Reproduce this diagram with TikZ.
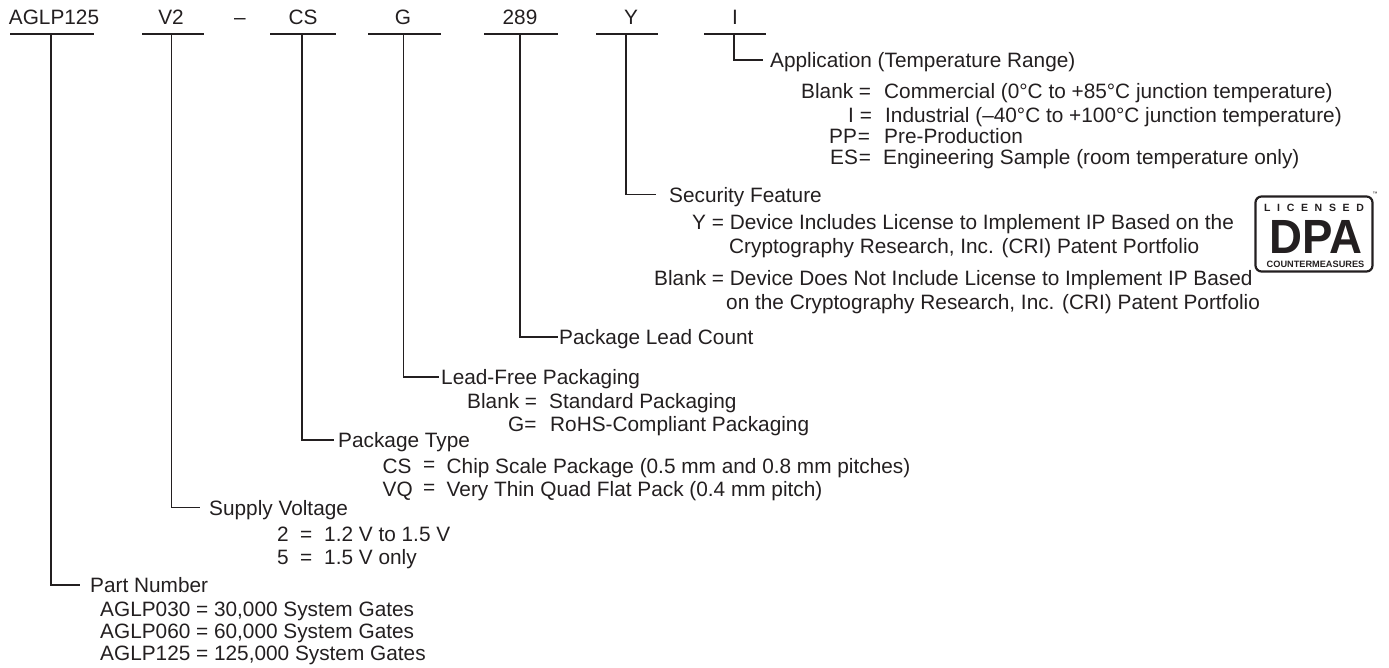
\documentclass[tikz,border=0pt]{standalone}
\usepackage{fontspec}
\setmainfont{Liberation Sans}
\usetikzlibrary{positioning}
\definecolor{partInk}{HTML}{231F20}
\newcommand{\logoGap}{\hspace{6.7pt}}

\begin{document}
\begin{tikzpicture}[x=1pt,y=-1pt,font=\fontsize{20.8}{24}\selectfont,text=partInk,
    codetext/.style={inner sep=0pt,anchor=base},
    bodytext/.style={inner sep=0pt,anchor=base west},
    headtext/.style={inner sep=0pt,anchor=west,text height=15pt,text depth=0pt},
    codebar/.style={fill=partInk,inner sep=0pt,minimum height=2pt,minimum width=#1},
    leader/.style={draw=partInk,line width=1.4pt}]
  \useasboundingbox (0,0) rectangle (1389,667);

  % ordering code along the top
  \node[codetext] (codePart) at (54,24) {AGLP125};
  \node[codetext] (codeVolt) at (171,24) {V2};
  \node[codetext] (codeDash) at (240,24) {--};
  \node[codetext] (codeType) at (303,24) {CS};
  \node[codetext] (codeFree) at (403,24) {G};
  \node[codetext] (codeLead) at (520,24) {289};
  \node[codetext] (codeSecu) at (631,24) {Y};
  \node[codetext] (codeAppl) at (735,24) {I};

  \node[codebar=84pt] (barPart) at (52,33.5) {};
  \node[codebar=62pt] (barVolt) at (172.5,33.5) {};
  \node[codebar=66pt] (barType) at (303,33.5) {};
  \node[codebar=72.7pt] (barFree) at (404.5,33.5) {};
  \node[codebar=74pt] (barLead) at (521,33.5) {};
  \node[codebar=62pt] (barSecu) at (627,33.5) {};
  \node[codebar=62pt] (barAppl) at (735,33.5) {};

  % application
  \node[headtext] (headAppl) at (770,60) {Application (Temperature Range)};
  \node[bodytext] (applBlankKey) at (801,98) {Blank =};
  \node[bodytext] (applBlank) at (884,98) {Commercial (0°C to +85°C junction temperature)};
  \node[bodytext] (applIndKey) at (848,122) {I =};
  \node[bodytext] (applInd) at (885,122) {Industrial (--40°C to +100°C junction temperature)};
  \node[bodytext] (applPreKey) at (829,143) {PP\kern1pt=};
  \node[bodytext] (applPre) at (884,143) {Pre-Production};
  \node[bodytext] (applEngKey) at (830,164) {ES\kern1pt=};
  \node[bodytext] (applEng) at (883,164) {Engineering Sample (room temperature only)};

  % security
  \node[headtext] (headSecu) at (669,194.5) {Security Feature};
  \node[bodytext] (secuYes) at (692,229) {Y = Device Includes License to Implement IP Based on the};
  \node[bodytext] (secuYesB) at (729,253) {Cryptography Research, Inc. (CRI) Patent Portfolio};
  \node[bodytext] (secuNo) at (654,285) {Blank = Device Does Not Include License to Implement IP Based};
  \node[bodytext] (secuNoB) at (726,309) {on the Cryptography Research, Inc. (CRI) Patent Portfolio};

  % licence mark
  \node[draw=partInk,line width=2.2pt,rounded corners=6pt,inner sep=0pt,minimum width=117pt,
        minimum height=75pt] (logoBox) at (1314,234) {};
  \node[inner sep=0pt,font=\bfseries\fontsize{10.5}{11}\selectfont] (logoTop) at (1314,208)
    {L\logoGap I\logoGap C\logoGap E\logoGap N\logoGap S\logoGap E\logoGap D};
  \node[inner sep=0pt,font=\bfseries\fontsize{48}{48}\selectfont] (logoMain) at (1316,237) {\scalebox{.95}[1]{DPA}};
  \node[inner sep=0pt,font=\bfseries\fontsize{9.2}{10}\selectfont] (logoBot) at (1315.5,264) {COUNTERMEASURES};
  \node[inner sep=0pt,font=\fontsize{5}{5}\selectfont] (logoMark) at (1375,194) {™};

  % package lead count
  \node[headtext] (headLead) at (559,337) {Package Lead Count};

  % lead-free
  \node[headtext] (headFree) at (441,377) {Lead-Free Packaging};
  \node[bodytext] (freeStdKey) at (467,408) {Blank =};
  \node[bodytext] (freeStd) at (549,408) {Standard Packaging};
  \node[bodytext] (freeRohsKey) at (508,431) {G=};
  \node[bodytext] (freeRohs) at (550,431) {RoHS-Compliant Packaging};

  % package type
  \node[headtext] (headType) at (338,440) {Package Type};
  \node[bodytext] (typeCsKey) at (382.5,473) {CS};
  \node[bodytext] (typeCsEq) at (423,471) {=};
  \node[bodytext] (typeCs) at (446.5,473) {Chip Scale Package (0.5 mm and 0.8 mm pitches)};
  \node[bodytext] (typeVqKey) at (382.5,496.5) {VQ};
  \node[bodytext] (typeVqEq) at (423,494) {=};
  \node[bodytext] (typeVq) at (446.5,496.5) {Very Thin Quad Flat Pack (0.4 mm pitch)};

  % supply voltage
  \node[headtext] (headVolt) at (209,507.5) {Supply Voltage};
  \node[bodytext] (voltLowKey) at (277,541.5) {2};
  \node[bodytext] (voltLowEq) at (300,541.5) {=};
  \node[bodytext] (voltLow) at (324,541.5) {1.2 V to 1.5 V};
  \node[bodytext] (voltHighKey) at (277,564) {5};
  \node[bodytext] (voltHighEq) at (300,564) {=};
  \node[bodytext] (voltHigh) at (324,564) {1.5 V only};

  % part number
  \node[headtext] (headPart) at (90,585) {Part Number};
  \node[bodytext] (partA) at (100,616) {AGLP030 = 30,000 System Gates};
  \node[bodytext] (partB) at (100,638) {AGLP060 = 60,000 System Gates};
  \node[bodytext] (partC) at (100,660.5) {AGLP125 = 125,000 System Gates};

  % leaders
  \draw[leader,shorten >=7pt] ([xshift=-1.2pt]barAppl.south) |- (headAppl.west);
  \draw[leader,shorten >=13pt] ([xshift=-1.2pt]barSecu.south) |- (headSecu.west);
  \draw[leader,shorten >=1.5pt] ([xshift=-1pt]barLead.south) |- (headLead.west);
  \draw[leader,shorten >=2pt] ([xshift=-1.2pt]barFree.south) |- (headFree.west);
  \draw[leader,shorten >=4pt] ([xshift=-1.2pt]barType.south) |- (headType.west);
  \draw[leader,shorten >=9pt] ([xshift=-1pt]barVolt.south) |- (headVolt.west);
  \draw[leader,shorten >=10pt] ([xshift=-1pt]barPart.south) |- (headPart.west);
\end{tikzpicture}
\end{document}
